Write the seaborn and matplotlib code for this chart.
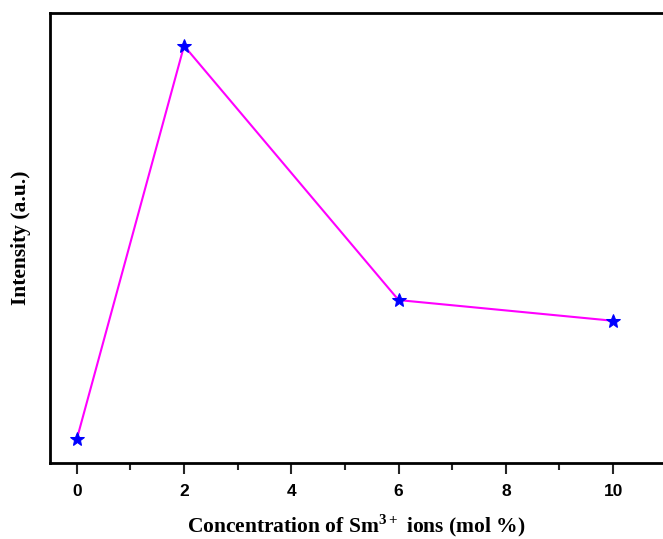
import matplotlib
matplotlib.use("Agg")
import matplotlib.pyplot as plt
from matplotlib.ticker import MultipleLocator, NullLocator
import seaborn as sns
import pandas as pd

# Sm3+ concentration (mol %) and relative emission intensity (a.u.)
concentration = [0, 2, 6, 10]
intensity = [0.053, 0.927, 0.362, 0.316]

df = pd.DataFrame({"conc": concentration, "intensity": intensity})

sns.set_style("ticks")
plt.rcParams["mathtext.fontset"] = "custom"
plt.rcParams["mathtext.rm"] = "Liberation Serif"
plt.rcParams["mathtext.bf"] = "Liberation Serif:bold"

fig = plt.figure(figsize=(6.63, 5.39), dpi=100)
ax = fig.add_axes([0.0754, 0.141, 0.9246, 0.835])

sns.lineplot(data=df, x="conc", y="intensity", ax=ax, color="#ff00ff",
             linewidth=1.5, marker="*", markersize=10,
             markerfacecolor="#0000ff", markeredgecolor="#0000ff")

ax.set_xlim(-0.5, 10.93)
ax.set_ylim(0, 1)
ax.xaxis.set_major_locator(MultipleLocator(2))
ax.xaxis.set_minor_locator(MultipleLocator(1))
ax.yaxis.set_major_locator(NullLocator())
ax.tick_params(axis="x", which="major", length=8, width=1.5, direction="out",
               pad=7, labelsize=12.5, labelcolor="black")
ax.tick_params(axis="x", which="minor", length=5, width=1.5, direction="out")
for lbl in ax.get_xticklabels():
    lbl.set_fontfamily("Liberation Sans")
    lbl.set_fontweight("bold")

for side in ["left", "bottom", "top"]:
    ax.spines[side].set_linewidth(2)
    ax.spines[side].set_color("black")
ax.spines["right"].set_visible(False)

ax.set_xlabel("Concentration of Sm$^{\\mathbf{3+}}$ ions (mol %)",
              fontfamily="Liberation Serif", fontweight="bold", fontsize=15.5,
              labelpad=10, color="black")
ax.set_ylabel("Intensity (a.u.)", fontfamily="Liberation Serif",
              fontweight="bold", fontsize=15.5, labelpad=14, color="black")

fig.savefig("out.png", dpi=100)
